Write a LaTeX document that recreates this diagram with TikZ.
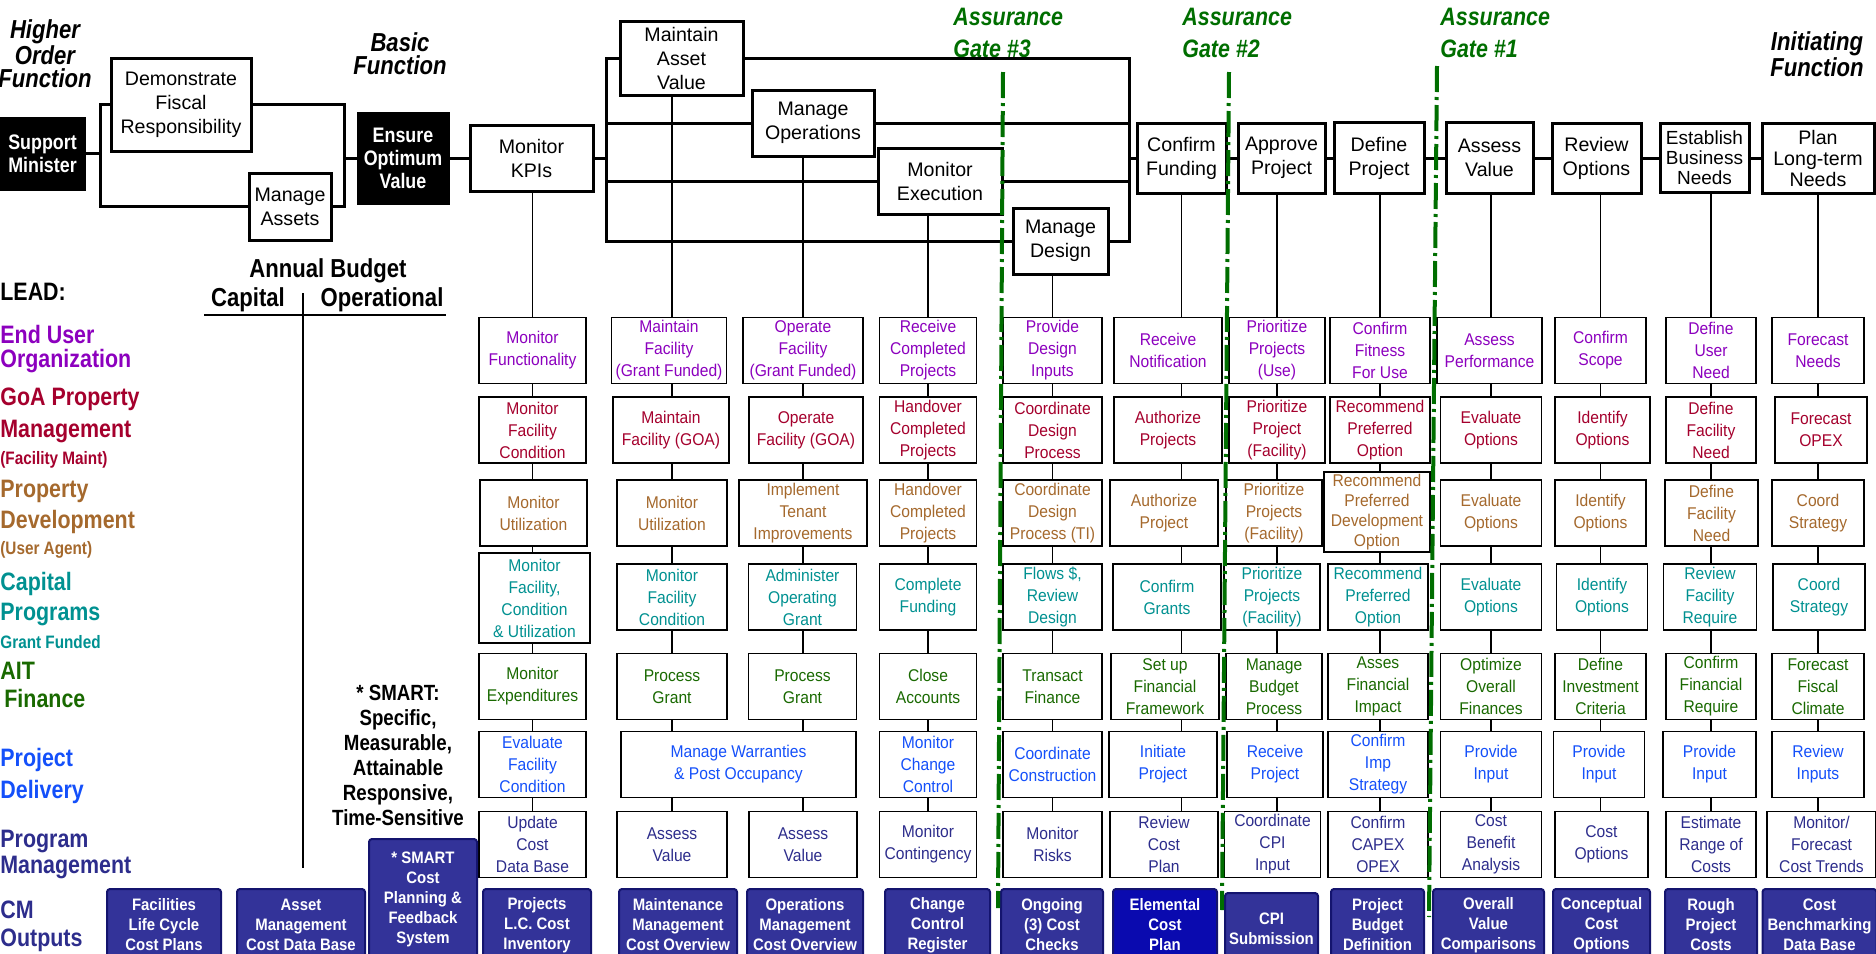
\documentclass[tikz,border=0pt]{standalone}
\usepackage{fontspec}
\setmainfont{Liberation Sans}
\newfontfamily\condfont[FakeStretch=0.85]{Liberation Sans}
\newfontfamily\gridfamily[FakeStretch=0.92]{Liberation Sans}
\newfontfamily\outfamily[FakeStretch=0.9]{Liberation Sans}
\usetikzlibrary{positioning, backgrounds}

\definecolor{enduser}{RGB}{140,0,190}
\definecolor{propmgmt}{RGB}{165,0,45}
\definecolor{propdev}{RGB}{165,105,45}
\definecolor{capprog}{RGB}{0,145,145}
\definecolor{finance}{RGB}{25,105,0}
\definecolor{delivery}{RGB}{20,80,250}
\definecolor{progmgmt}{RGB}{45,45,140}
\definecolor{cmfill}{RGB}{51,51,153}
\definecolor{cmedge}{RGB}{20,20,110}
\definecolor{elemfill}{RGB}{10,10,175}
\definecolor{gategreen}{RGB}{0,110,0}

\begin{document}
\begin{tikzpicture}[
            x=0.5pt, y=-0.5pt,
            topbox/.style={draw, line width=1.5pt, fill=white, align=center, inner sep=1pt, font=\fontsize{9.8}{12}\selectfont},
            blackbox/.style={draw, fill=black, text=white, align=center, inner sep=1pt, font=\condfont\bfseries\fontsize{10.5}{11.5}\selectfont},
            cell/.style={draw, line width=0.9pt, fill=white, align=center, inner sep=1pt, minimum height=33pt, font=\gridfamily\fontsize{8.5}{11}\selectfont},
            output/.style={draw=cmedge, fill=cmfill, line width=1pt, rounded corners=1.5pt, text=white, align=center, inner sep=1pt, minimum height=36pt, anchor=north, font=\outfamily\bfseries\fontsize{8.3}{10}\selectfont},
            heading/.style={align=center, inner sep=0pt, font=\condfont\bfseries\itshape\fontsize{13}{11.5}\selectfont},
            gatelabel/.style={align=left, inner sep=0pt, anchor=north west, text=gategreen, font=\condfont\bfseries\itshape\fontsize{12.6}{16}\selectfont},
            lead/.style={align=left, inner sep=0pt, anchor=north west, font=\condfont\bfseries\fontsize{12.6}{12}\selectfont},
            budgethead/.style={inner sep=0pt, font=\condfont\bfseries\fontsize{13}{13}\selectfont},
            bus/.style={line width=1.5pt},
            wire/.style={line width=0.8pt},
            gate/.style={draw=gategreen, line width=2pt, dash pattern=on 13pt off 2.5pt on 1.5pt off 2.5pt},
            rowuser/.style={text=enduser},
            rowmaint/.style={text=propmgmt},
            rowdev/.style={text=propdev},
            rowcap/.style={text=capprog},
            rowfin/.style={text=finance},
            rowdel/.style={text=delivery},
            rowprog/.style={text=progmgmt},
            colkpi/.style={minimum width=53.5pt},
            colasset/.style={minimum width=55pt},
            colops/.style={minimum width=54pt},
            colexec/.style={minimum width=48.5pt},
            coldesign/.style={minimum width=49.5pt},
            colfund/.style={minimum width=54pt},
            colapprove/.style={minimum width=48pt},
            coldefine/.style={minimum width=50pt},
            colassess/.style={minimum width=50.5pt},
            colreview/.style={minimum width=45.5pt},
            colneeds/.style={minimum width=45pt},
            colplan/.style={minimum width=46pt}
        ]
        \useasboundingbox (0,0) rectangle (1876,954);

        % Headings
        \node[heading] (higher) at (45,54) {Higher\\Order\\Function};
        \node[heading] (basic) at (400,54) {Basic\\Function};
        \node[heading] (initiating) at (1817,54) {Initiating\\Function};
        \node[gatelabel] (gate3lbl) at (953,8) {Assurance\\Gate \#3};
        \node[gatelabel] (gate2lbl) at (1182,8) {Assurance\\Gate \#2};
        \node[gatelabel] (gate1lbl) at (1440,8) {Assurance\\Gate \#1};

        % Function chain
        \node[blackbox, minimum width=42.5pt, minimum height=36.5pt] (minister) at (42.5,153.5) {Support\\Minister};
        \node[topbox, minimum width=70pt, minimum height=46.5pt] (fiscal) at (181,104.5) {Demonstrate\\Fiscal\\Responsibility};
        \node[topbox, minimum width=41pt, minimum height=33.5pt] (assets) at (290,206.5) {Manage\\Assets};
        \node[blackbox, minimum width=46pt, minimum height=46pt] (optimum) at (403,158) {Ensure\\Optimum\\Value};
        \node[topbox, minimum width=61.5pt, minimum height=33pt] (kpis) at (531.5,158) {Monitor\\KPIs};
        \node[topbox, minimum width=61.5pt, minimum height=37pt] (assetval) at (681.5,58) {Maintain\\Asset\\Value};
        \node[topbox, minimum width=61pt, minimum height=33pt] (operations) at (813,123) {Manage\\Operations};
        \node[topbox, minimum width=62pt, minimum height=33pt] (execution) at (940,181) {Monitor\\Execution};
        \node[topbox, minimum width=47.5pt, minimum height=33pt] (design) at (1060.5,241) {Manage\\Design};
        \node[topbox, minimum width=44.5pt, minimum height=35pt] (funding) at (1181.5,158) {Confirm\\Funding};
        \node[topbox, minimum width=43.5pt, minimum height=35pt] (approve) at (1281.5,158) {Approve\\Project};
        \node[topbox, minimum width=45pt, minimum height=35.5pt] (define) at (1379,158) {Define\\Project};
        \node[topbox, minimum width=43.5pt, minimum height=35.5pt] (assess) at (1489.5,158) {Assess\\Value};
        \node[topbox, minimum width=44.5pt, minimum height=35pt] (review) at (1596.5,158) {Review\\Options};
        \node[topbox, minimum width=44.5pt, minimum height=34.5pt, font=\fontsize{9.5}{10}\selectfont] (business) at (1704.5,158) {Establish\\Business\\Needs};
        \node[topbox, minimum width=56pt, minimum height=35pt, font=\fontsize{9.8}{10.5}\selectfont] (longterm) at (1818,158) {Plan\\Long-term\\Needs};

        \coordinate (ministerjn) at (100,153.5);
        \coordinate (optimumjn) at (344,158);
        \coordinate (kpijn) at (606,158);
        \coordinate (fundingjn) at (1129,158);

        \draw[bus] (minister.east) -- (ministerjn);
        \draw[bus] (fiscal.west) -| (ministerjn);
        \draw[bus] (assets.west) -| (ministerjn);
        \draw[bus] (fiscal.east) -| (optimumjn);
        \draw[bus] (assets.east) -| (optimumjn);
        \draw[bus] (optimumjn) -- (optimum.west);
        \draw[bus] (optimum) -- (kpis);
        \draw[bus] (kpis.east) -- (kpijn);
        \draw[bus] (assetval.west) -| (kpijn);
        \draw[bus] (operations.west) -| (kpijn);
        \draw[bus] (execution.west) -| (kpijn);
        \draw[bus] (design.west) -| (kpijn);
        \draw[bus] (assetval.east) -| (fundingjn);
        \draw[bus] (operations.east) -| (fundingjn);
        \draw[bus] (execution.east) -| (fundingjn);
        \draw[bus] (design.east) -| (fundingjn);
        \draw[bus] (fundingjn) -- (funding.west);
        \draw[bus] (funding) -- (approve);
        \draw[bus] (approve) -- (define);
        \draw[bus] (define) -- (assess);
        \draw[bus] (assess) -- (review);
        \draw[bus] (review) -- (business);
        \draw[bus] (business) -- (longterm);

        % Lead legend
        \node[lead] (leadlbl) at (0,283) {LEAD:};
        \node[lead, text=enduser] (enduserlbl) at (0,325) {End User\\Organization};
        \node[lead, text=propmgmt] (propmgmtlbl) at (0,387) {GoA Property\\[4pt]Management\\[1.5pt]{\fontsize{9}{10}\selectfont(Facility Maint)}};
        \node[lead, text=propdev] (propdevlbl) at (0,480) {Property\\[3.5pt]Development\\[1pt]{\fontsize{9}{10}\selectfont(User Agent)}};
        \node[lead, text=capprog] (capproglbl) at (0,572) {Capital\\[3pt]Programs\\[2pt]{\fontsize{9}{10}\selectfont Grant Funded}};
        \node[lead, text=finance] (financelbl) at (0,662) {AIT\\[2pt]\hspace{2pt}Finance};
        \node[lead, text=delivery] (deliverylbl) at (0,748) {Project\\[4pt]Delivery};
        \node[lead, text=progmgmt] (progmgmtlbl) at (0,830) {Program\\[1pt]Management};
        \node[lead, text=progmgmt] (outputslbl) at (0,900) {CM\\[2pt]Outputs};

        % Annual budget
        \node[budgethead] (budget) at (328,271) {Annual Budget};
        \node[budgethead] (capital) at (248,300) {Capital};
        \node[budgethead] (operational) at (382,300) {Operational};
        \draw[wire] (204,315) -- (446,315);
        \draw[wire] (303,293) -- (303,868);
        \node[align=center, inner sep=0pt, font=\condfont\bfseries\fontsize{11}{12.5}\selectfont] (smartnote) at (398,755) {* SMART:\\Specific,\\Measurable,\\Attainable\\Responsive,\\Time-Sensitive};

        % Monitor KPIs column
        \node[cell, colkpi, rowuser] (c1r1) at (532.5,350.5) {Monitor\\Functionality};
        \node[cell, colkpi, rowmaint] (c1r2) at (532.5,430) {Monitor\\Facility\\Condition};
        \node[cell, colkpi, rowdev] (c1r3) at (533.5,513) {Monitor\\Utilization};
        \node[cell, colkpi, rowcap, minimum width=55.5pt, minimum height=45pt] (c1r4) at (534.5,598) {Monitor\\Facility,\\Condition\\\& Utilization};
        \node[cell, colkpi, rowfin] (c1r5) at (532.5,686.5) {Monitor\\Expenditures};
        \node[cell, colkpi, rowdel] (c1r6) at (532.5,764.5) {Evaluate\\Facility\\Condition};
        \node[cell, colkpi, rowprog] (c1r7) at (532.5,844.5) {Update\\Cost\\Data Base};

        % Maintain Asset Value column
        \node[cell, colasset, rowuser, minimum width=57.5pt] (c2r1) at (669,350.5) {Maintain\\Facility\\(Grant Funded)};
        \node[cell, colasset, rowmaint, minimum width=58pt] (c2r2) at (671,430) {Maintain\\Facility (GOA)};
        \node[cell, colasset, rowdev] (c2r3) at (672,513) {Monitor\\Utilization};
        \node[cell, colasset, rowcap] (c2r4) at (672,597) {Monitor\\Facility\\Condition};
        \node[cell, colasset, rowfin] (c2r5) at (672,686.5) {Process\\Grant};
        \node[cell, rowdel, minimum width=117.5pt] (c2r6) at (738.5,764.5) {Manage Warranties\\\& Post Occupancy};
        \node[cell, colasset, rowprog] (c2r7) at (672,844.5) {Assess\\Value};

        % Manage Operations column
        \node[cell, colops, rowuser, minimum width=60pt] (c3r1) at (803,350.5) {Operate\\Facility\\(Grant Funded)};
        \node[cell, colops, rowmaint, minimum width=57pt] (c3r2) at (806,430) {Operate\\Facility (GOA)};
        \node[cell, colops, rowdev, minimum width=64pt] (c3r3) at (803,513) {Implement\\Tenant\\Improvements};
        \node[cell, colops, rowcap] (c3r4) at (802.5,597) {Administer\\Operating\\Grant};
        \node[cell, colops, rowfin] (c3r5) at (802.5,686.5) {Process\\Grant};
        \node[cell, colops, rowprog] (c3r7) at (803,844.5) {Assess\\Value};

        % Monitor Execution column
        \node[cell, colexec, rowuser] (c4r1) at (928,350.5) {Receive\\Completed\\Projects};
        \node[cell, colexec, rowmaint] (c4r2) at (928,430) {Handover\\Completed\\Projects};
        \node[cell, colexec, rowdev] (c4r3) at (928,513) {Handover\\Completed\\Projects};
        \node[cell, colexec, rowcap] (c4r4) at (928,597) {Complete\\Funding};
        \node[cell, colexec, rowfin] (c4r5) at (928,686.5) {Close\\Accounts};
        \node[cell, colexec, rowdel] (c4r6) at (928,764.5) {Monitor\\Change\\Control};
        \node[cell, colexec, rowprog] (c4r7) at (928,844.5) {Monitor\\Contingency};

        % Manage Design column
        \node[cell, coldesign, rowuser] (c5r1) at (1052.5,350.5) {Provide\\Design\\Inputs};
        \node[cell, coldesign, rowmaint] (c5r2) at (1052.5,430) {Coordinate\\Design\\Process};
        \node[cell, coldesign, rowdev] (c5r3) at (1052.5,513) {Coordinate\\Design\\Process (TI)};
        \node[cell, coldesign, rowcap] (c5r4) at (1052.5,597) {Flows \$,\\Review\\Design};
        \node[cell, coldesign, rowfin] (c5r5) at (1052.5,686.5) {Transact\\Finance};
        \node[cell, coldesign, rowdel] (c5r6) at (1052.5,764.5) {Coordinate\\Construction};
        \node[cell, coldesign, rowprog] (c5r7) at (1052.5,844.5) {Monitor\\Risks};

        % Confirm Funding column
        \node[cell, colfund, rowuser] (c6r1) at (1168,350.5) {Receive\\Notification};
        \node[cell, colfund, rowmaint] (c6r2) at (1168,430) {Authorize\\Projects};
        \node[cell, colfund, rowdev] (c6r3) at (1164,513) {Authorize\\Project};
        \node[cell, colfund, rowcap] (c6r4) at (1167,597) {Confirm\\Grants};
        \node[cell, colfund, rowfin] (c6r5) at (1165,686.5) {Set up\\Financial\\Framework};
        \node[cell, colfund, rowdel] (c6r6) at (1163,764.5) {Initiate\\Project};
        \node[cell, colfund, rowprog] (c6r7) at (1164,844.5) {Review\\Cost\\Plan};

        % Approve Project column
        \node[cell, colapprove, rowuser] (c7r1) at (1277,350.5) {Prioritize\\Projects\\(Use)};
        \node[cell, colapprove, rowmaint] (c7r2) at (1277,430) {Prioritize\\Project\\(Facility)};
        \node[cell, colapprove, rowdev] (c7r3) at (1274,513) {Prioritize\\Projects\\(Facility)};
        \node[cell, colapprove, rowcap] (c7r4) at (1272,597) {Prioritize\\Projects\\(Facility)};
        \node[cell, colapprove, rowfin] (c7r5) at (1274,686.5) {Manage\\Budget\\Process};
        \node[cell, colapprove, rowdel] (c7r6) at (1275,764.5) {Receive\\Project};
        \node[cell, colapprove, rowprog] (c7r7) at (1272.5,844.5) {Coordinate\\CPI\\Input};

        % Define Project column
        \node[cell, coldefine, rowuser] (c8r1) at (1380,350.5) {Confirm\\Fitness\\For Use};
        \node[cell, coldefine, rowmaint] (c8r2) at (1380,430) {Recommend\\Preferred\\Option};
        \node[cell, coldefine, rowdev, minimum width=53pt, minimum height=40pt, font=\gridfamily\fontsize{8.5}{10}\selectfont] (c8r3) at (1377,512) {Recommend\\Preferred\\Development\\Option};
        \node[cell, coldefine, rowcap] (c8r4) at (1378,597) {Recommend\\Preferred\\Option};
        \node[cell, coldefine, rowfin] (c8r5) at (1378,686.5) {Asses\\Financial\\Impact};
        \node[cell, coldefine, rowdel] (c8r6) at (1378,764.5) {Confirm\\Imp\\Strategy};
        \node[cell, coldefine, rowprog] (c8r7) at (1378,844.5) {Confirm\\CAPEX\\OPEX};

        % Assess Value column
        \node[cell, colassess, rowuser, minimum width=52.5pt] (c9r1) at (1489.5,350.5) {Assess\\Performance};
        \node[cell, colassess, rowmaint] (c9r2) at (1491,430) {Evaluate\\Options};
        \node[cell, colassess, rowdev] (c9r3) at (1491,513) {Evaluate\\Options};
        \node[cell, colassess, rowcap] (c9r4) at (1491,597) {Evaluate\\Options};
        \node[cell, colassess, rowfin] (c9r5) at (1491,686.5) {Optimize\\Overall\\Finances};
        \node[cell, colassess, rowdel] (c9r6) at (1491,764.5) {Provide\\Input};
        \node[cell, colassess, rowprog] (c9r7) at (1491,844.5) {Cost\\Benefit\\Analysis};

        % Review Options column
        \node[cell, colreview, rowuser] (c10r1) at (1600.5,350.5) {Confirm\\Scope};
        \node[cell, colreview, rowmaint, minimum width=47.5pt] (c10r2) at (1602.5,430) {Identify\\Options};
        \node[cell, colreview, rowdev] (c10r3) at (1600.5,513) {Identify\\Options};
        \node[cell, colreview, rowcap] (c10r4) at (1602,597) {Identify\\Options};
        \node[cell, colreview, rowfin] (c10r5) at (1600.5,686.5) {Define\\Investment\\Criteria};
        \node[cell, colreview, rowdel] (c10r6) at (1599,764.5) {Provide\\Input};
        \node[cell, colreview, rowprog, minimum width=46.5pt] (c10r7) at (1601.5,844.5) {Cost\\Options};

        % Establish Business Needs column
        \node[cell, colneeds, rowuser] (c11r1) at (1711,350.5) {Define\\User\\Need};
        \node[cell, colneeds, rowmaint] (c11r2) at (1711,430) {Define\\Facility\\Need};
        \node[cell, colneeds, rowdev, minimum width=46.5pt] (c11r3) at (1711.5,513) {Define\\Facility\\Need};
        \node[cell, colneeds, rowcap, minimum width=46.5pt] (c11r4) at (1710,597) {Review\\Facility\\Require};
        \node[cell, colneeds, rowfin] (c11r5) at (1711,686.5) {Confirm\\Financial\\Require};
        \node[cell, colneeds, rowdel, minimum width=46.5pt] (c11r6) at (1709.5,764.5) {Provide\\Input};
        \node[cell, colneeds, rowprog] (c11r7) at (1711,844.5) {Estimate\\Range of\\Costs};

        % Plan Long-term Needs column
        \node[cell, colplan, rowuser] (c12r1) at (1818,350.5) {Forecast\\Needs};
        \node[cell, colplan, rowmaint] (c12r2) at (1821,430) {Forecast\\OPEX};
        \node[cell, colplan, rowdev] (c12r3) at (1818,513) {Coord\\Strategy};
        \node[cell, colplan, rowcap] (c12r4) at (1819,597) {Coord\\Strategy};
        \node[cell, colplan, rowfin] (c12r5) at (1818,686.5) {Forecast\\Fiscal\\Climate};
        \node[cell, colplan, rowdel] (c12r6) at (1818,764.5) {Review\\Inputs};
        \node[cell, colplan, rowprog, minimum width=54.5pt] (c12r7) at (1821.5,844.5) {Monitor/\\Forecast\\Cost Trends};

        % CM outputs
        \node[output, minimum width=57pt] (lcplans) at (164,888) {Facilities\\Life Cycle\\Cost Plans};
        \node[output, minimum width=64pt] (amdb) at (301,888) {Asset\\Management\\Cost Data Base};
        \node[output, minimum width=54pt, minimum height=60pt] (smartsys) at (423,838) {* SMART\\Cost\\Planning \&\\Feedback\\System};
        \node[output, minimum width=54pt] (lcinv) at (537,888) {Projects\\L.C. Cost\\Inventory};
        \node[output, minimum width=59pt] (maintcost) at (678,888) {Maintenance\\Management\\Cost Overview};
        \node[output, minimum width=58pt] (opscost) at (805,888) {Operations\\Management\\Cost Overview};
        \node[output, minimum width=52.5pt] (ccreg) at (937.5,888) {Change\\Control\\Register};
        \node[output, minimum width=51pt] (costchecks) at (1052,888) {Ongoing\\(3) Cost\\Checks};
        \node[output, fill=elemfill, minimum width=52pt] (elemental) at (1165,888) {Elemental\\Cost\\Plan};
        \node[output, minimum width=46.5pt] (cpisub) at (1271.5,892) {CPI\\Submission};
        \node[output, minimum width=46.5pt] (budgetdef) at (1377.5,888) {Project\\Budget\\Definition};
        \node[output, minimum width=55.5pt] (valuecomp) at (1488.5,888) {Overall\\Value\\Comparisons};
        \node[output, minimum width=48.5pt] (conceptual) at (1601.5,888) {Conceptual\\Cost\\Options};
        \node[output, minimum width=46pt] (roughcost) at (1711,888) {Rough\\Project\\Costs};
        \node[output, minimum width=57pt] (benchmark) at (1819.5,888) {Cost\\Benchmarking\\Data Base};

        % Drop lines behind the columns
        \begin{pgfonlayer}{background}
            \draw[wire] (kpis.south -| c1r1) -- (c1r7);
            \draw[wire] (assetval.south -| c2r3) -- (c2r7);
            \draw[wire] (operations.south -| c3r1) -- (c3r7);
            \draw[wire] (execution.south -| c4r1) -- (c4r7);
            \draw[wire] (design.south -| c5r1) -- (c5r7);
            \draw[wire] (funding.south) -- (funding.south |- c6r7);
            \draw[wire] (approve.south -| c7r1) -- (c7r1 |- c7r7);
            \draw[wire] (define.south -| c8r1) -- (c8r1 |- c8r7);
            \draw[wire] (assess.south -| c9r2) -- (c9r7);
            \draw[wire] (review.south -| c10r1) -- (c10r1 |- c10r7);
            \draw[wire] (business.south -| c11r1) -- (c11r7);
            \draw[wire] (longterm.south -| c12r1) -- (c12r1 |- c12r7);
        \end{pgfonlayer}

        % Assurance gates
        \draw[gate] (1003,72) -- (998,908);
        \draw[gate] (1229,72) -- (1222,910);
        \draw[gate] (1437,66) -- (1429,917);
    \end{tikzpicture}
\end{document}
